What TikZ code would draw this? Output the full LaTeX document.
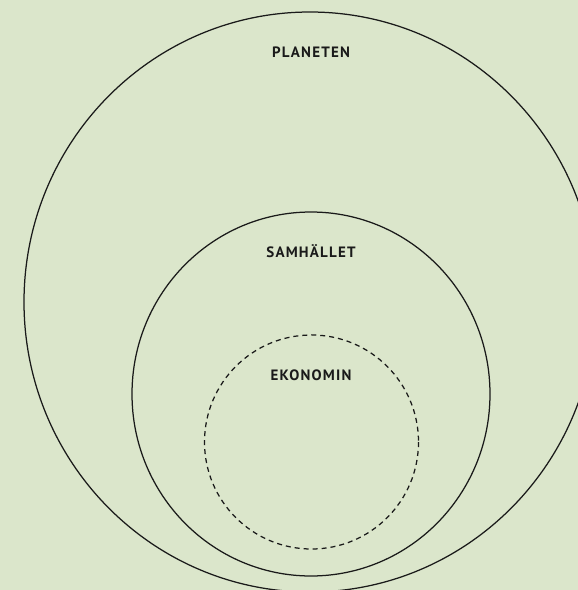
\documentclass[tikz,border=0pt]{standalone}
\usepackage{fontspec}
\setmainfont{PT Sans}[LetterSpace=8]
\definecolor{bgc}{HTML}{DBE6CB}
\definecolor{linec}{HTML}{1A1A1A}
\begin{document}
\begin{tikzpicture}[x=1pt,y=-1pt,
  ring/.style={draw=linec,line width=1.25pt},
  lbl/.style={font=\bfseries\fontsize{15}{17}\selectfont,text=linec,inner sep=0pt}]
\fill[bgc] (0,0) rectangle (578,590);
\useasboundingbox (0,0) rectangle (578,590);
\begin{scope}
\clip (0,0) rectangle (578,590);
\draw[ring] (310,302) ellipse [x radius=286, y radius=290];
\draw[ring] (311,394) ellipse [x radius=179, y radius=182];
\draw[ring,dash pattern=on 5pt off 4pt] (311.5,442) circle [radius=107];
\end{scope}
\node[lbl] (planeten) at (311,52) {PLANETEN};
\node[lbl] (samhallet) at (311,251) {SAMHÄLLET};
\node[lbl] (ekonomin) at (311,375) {EKONOMIN};
\end{tikzpicture}
\end{document}
